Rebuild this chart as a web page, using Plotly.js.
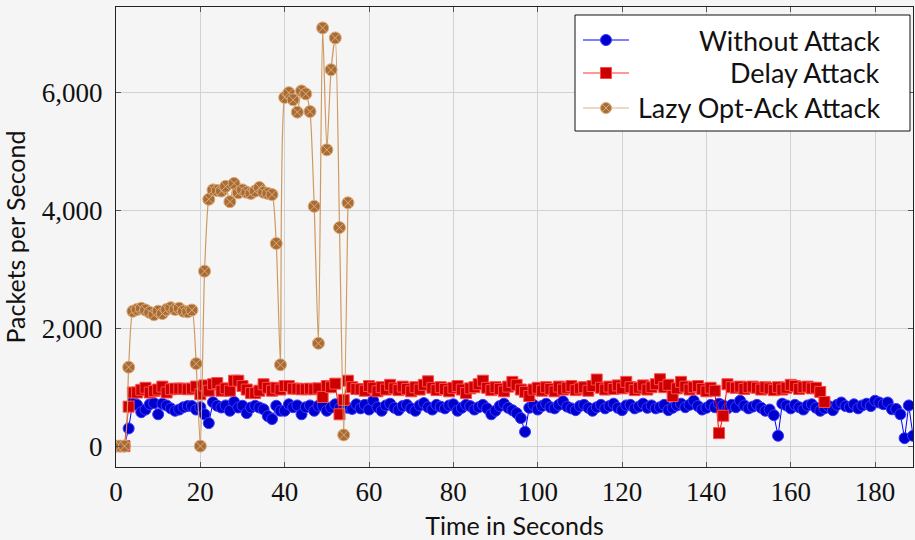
<!DOCTYPE html>
<html><head><meta charset="utf-8">
<script src="https://cdn.plot.ly/plotly-3.0.1.min.js"></script>
<style>html,body{margin:0;padding:0;background:#f5f5f5}</style>
</head><body><div id="chart" style="width:915px;height:540px"></div>
<script>
// Series names
const seriesNames = ['Without Attack', 'Delay Attack', 'Lazy Opt-Ack Attack'];

// Without Attack, one value per second from t = 0
const withoutAttack = [
  0,0,0,300,
  760,700,575,620,710,730,540,720,690,640,600,620,660,680,680,620,660,
  540,390,
  745,685,655,690,600,750,655,685,560,655,685,655,625,510,460,685,600,600,
  710,660,690,540,660,690,600,685,685,600,655,710,640,700,650,630,710,
  640,700,620,770,660,600,690,720,650,610,
  680,700,640,600,690,730,660,620,700,670,
  640,690,710,600,650,700,680,620,660,700,
  640,540,600,680,720,650,610,560,
  475,243,
  650,700,620,680,720,660,640,700,760,670,
  640,610,680,700,650,600,660,700,640,680,
  720,650,610,690,700,640,670,720,650,690,
  640,660,700,610,650,690,720,660,700,770,
  680,620,650,700,660,720,690,640,700,660,
  770,690,640,670,700,650,600,620,
  525,175,
  720,690,640,700,660,620,690,710,650,600,640,680,
  610,700,740,680,660,710,640,690,720,680,
  770,740,710,740,625,630,540,
  135,690,175
];

// Delay Attack, one value per second from t = 0
const delayAttack = [
  0,0,0,670,
  910,910,955,990,910,935,960,1010,910,965,975,975,975,965,975,1010,
  880,
  1030,940,1050,1070,940,980,940,1110,1110,1020,960,900,900,940,1050,990,940,
  990,960,1020,1020,975,975,965,965,975,965,980,
  835,1020,1000,1060,540,785,1110,1000,970,
  966,940,1020,990,930,1000,960,1040,980,950,
  1010,970,930,1000,960,1040,1100,990,950,1000,
  970,930,990,1020,960,900,980,1000,1050,1110,
  990,950,1000,970,930,1010,1090,1040,960,920,
  850,960,990,940,1000,970,930,1010,960,990,
  1020,950,980,1000,940,1020,1130,990,960,1010,
  970,1030,980,1090,1000,950,990,1030,960,1000,
  1050,1135,1000,1040,850,980,1090,1010,960,1000,
  1020,970,930,990,940,
  220,515,
  1050,1000,990,1010,970,1000,1010,990,960,1000,980,950,
  1000,960,990,1040,1020,970,1000,1010,980,990,
  920,750
];

// Lazy Opt-Ack Attack, one value per second from t = 0
const lazyOptAck = [
  0,0,0,1340,
  2290,2320,2340,2310,2270,2230,2290,2250,2320,2350,2320,2340,2290,2280,2310,
  1400,0,2970,
  4190,4350,4340,4330,4410,4150,4460,4300,4350,4310,4290,4330,4390,4310,4290,4270,
  3440,1380,
  5920,6000,5880,5670,6030,5980,5680,
  4070,1745,7100,5030,6390,6930,3710,190,4130
];

const secondsFor = arr => arr.map((_, i) => i);

const traces = [
  {
    x: secondsFor(withoutAttack), y: withoutAttack, name: seriesNames[0],
    type: 'scatter', mode: 'lines+markers',
    line: {color: '#0000ff', width: 1},
    marker: {symbol: 'circle', size: 11, color: '#0000cc', line: {color: '#3838ff', width: 1}}
  },
  {
    x: secondsFor(delayAttack), y: delayAttack, name: seriesNames[1],
    type: 'scatter', mode: 'lines+markers',
    line: {color: '#ff0000', width: 1},
    marker: {symbol: 'square', size: 11, color: '#cc0000', line: {color: '#ff4a4a', width: 1}}
  },
  {
    x: secondsFor(lazyOptAck), y: lazyOptAck, name: seriesNames[2],
    type: 'scatter', mode: 'lines+markers',
    line: {color: '#cf9a62', width: 1.2, shape: 'spline', smoothing: 0.6},
    marker: {symbol: 'circle-x', size: 12, color: '#a86d36', line: {color: '#dcaa78', width: 1}}
  }
];

// ---- custom legend (right-aligned labels, like the original) ----
const L = {l: 116, r: 2, t: 7, b: 73};
const W = 915, H = 540;
const pw = W - L.l - L.r, ph = H - L.t - L.b;
const px = v => (v - L.l) / pw;
const py = v => (H - L.b - v) / ph;

const legendRows = [40, 73, 108];
const legendStyle = [
  {line: '#0000ff', fill: '#0000cc', edge: '#3838ff', sym: 'circle'},
  {line: '#ff3030', fill: '#cc0000', edge: '#ff4a4a', sym: 'square'},
  {line: '#dcb48a', fill: '#a86d36', edge: '#dcaa78', sym: 'circlex'}
];
const shapes = [{
  type: 'rect', xref: 'paper', yref: 'paper',
  x0: px(575), x1: px(910), y0: py(131), y1: py(15),
  fillcolor: '#ffffff', line: {color: '#111111', width: 1}, layer: 'above'
}];
const annotations = [];
legendRows.forEach((row, i) => {
  const st = legendStyle[i];
  shapes.push({type: 'line', xref: 'paper', yref: 'paper',
    x0: px(583), x1: px(629), y0: py(row), y1: py(row),
    line: {color: st.line, width: 1.2}, layer: 'above'});
  const base = {xref: 'paper', yref: 'paper', xsizemode: 'pixel', ysizemode: 'pixel',
    xanchor: px(606), yanchor: py(row), layer: 'above'};
  const r = 5.5;
  shapes.push(Object.assign({}, base, {
    type: st.sym === 'square' ? 'rect' : 'circle',
    x0: -r, x1: r, y0: -r, y1: r,
    fillcolor: st.fill, line: {color: st.edge, width: 1}}));
  if (st.sym === 'circlex') {
    const d = 3.9;
    shapes.push(Object.assign({}, base, {type: 'line', x0: -d, x1: d, y0: -d, y1: d, line: {color: st.edge, width: 1}}));
    shapes.push(Object.assign({}, base, {type: 'line', x0: -d, x1: d, y0: d, y1: -d, line: {color: st.edge, width: 1}}));
  }
  annotations.push({
    xref: 'paper', yref: 'paper', x: px(882), y: py(row),
    xanchor: 'right', yanchor: 'middle', showarrow: false,
    text: seriesNames[i],
    font: {family: 'Lato, "Noto Sans", sans-serif', size: 27, color: '#111111'}
  });
});

const axisCommon = {
  showgrid: true, gridcolor: '#d2d2d2', gridwidth: 1,
  zeroline: false,
  showline: true, linecolor: '#222222', linewidth: 1, mirror: 'ticks',
  ticks: 'inside', ticklen: 5, tickcolor: '#555555', tickwidth: 1,
  tickfont: {family: '"Liberation Serif", "DejaVu Serif", serif', size: 27, color: '#111111'}
};

const layout = {
  width: W, height: H,
  margin: L,
  paper_bgcolor: '#f5f5f5', plot_bgcolor: '#f5f5f5',
  showlegend: false,
  xaxis: Object.assign({}, axisCommon, {
    range: [0, 189], tick0: 0, dtick: 20,
    ticklabelstandoff: 1,
    title: {text: 'Time in Seconds', standoff: 12,
      font: {family: 'Lato, "Noto Sans", sans-serif', size: 25, color: '#111111'}}
  }),
  yaxis: Object.assign({}, axisCommon, {
    range: [-355, 7455], tick0: 0, dtick: 2000, tickformat: ',d',
    ticklabelstandoff: 7,
    title: {text: 'Packets per Second', standoff: 10,
      font: {family: 'Lato, "Noto Sans", sans-serif', size: 25, color: '#111111'}}
  }),
  shapes: shapes,
  annotations: annotations
};

Plotly.newPlot('chart', traces, layout, {staticPlot: true, displayModeBar: false});
</script>
</body></html>
